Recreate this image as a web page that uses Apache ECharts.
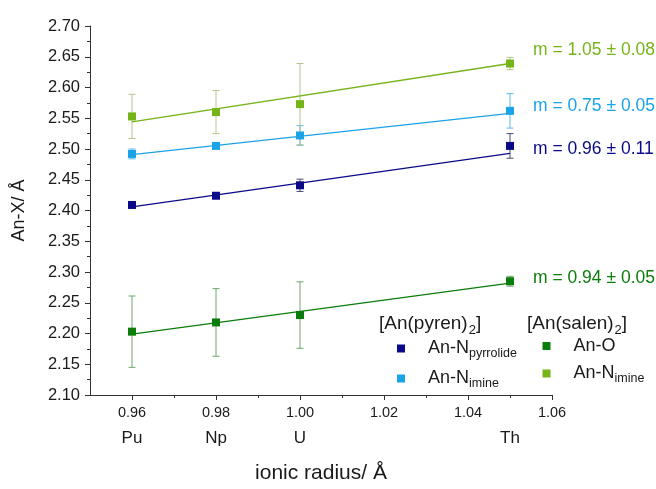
<!DOCTYPE html>
<html>
<head>
<meta charset="utf-8">
<script src="https://cdn.jsdelivr.net/npm/echarts@6/dist/echarts.min.js"></script>
<style>
  html, body { margin: 0; padding: 0; background: #fff; }
  #main { width: 656px; height: 489px; }
</style>
</head>
<body>
<div id="main"></div>
<script>
// ionic radius (Å) of each actinide
const radii = [0.96, 0.98, 1.00, 1.05]
const elements = ['Pu', 'Np', 'U', 'Th']
const xTicks = [0.96, 0.98, 1.00, 1.02, 1.04, 1.06]
const xMinorTicks = [0.97, 0.99, 1.01, 1.03, 1.05]

// An-X distances (Å) and error bars
const pyrrolide = [2.409, 2.424, 2.441, 2.505]
const pyrrolideErr = [0.002, 0.002, 0.010, 0.020]
const pyrenImine = [2.492, 2.505, 2.522, 2.562]
const pyrenImineErr = [0.008, 0.004, 0.016, 0.028]
const salenO = [2.203, 2.218, 2.230, 2.285]
const salenOErr = [0.058, 0.055, 0.054, 0.008]
const salenImine = [2.553, 2.560, 2.573, 2.639]
const salenImineErr = [0.036, 0.035, 0.066, 0.010]

// linear fits, value at Pu and at Th
const fitPyrrolide = [2.406, 2.493]
const fitPyrenImine = [2.491, 2.558]
const fitSalenO = [2.199, 2.282]
const fitSalenImine = [2.544, 2.639]
const slopeLabels = ['m = 0.96 ± 0.11', 'm = 0.75 ± 0.05', 'm = 0.94 ± 0.05', 'm = 1.05 ± 0.08']

const FONT = 'Liberation Sans, Arial, sans-serif'
const TXT = '#1a1a1a'

const groups = [
  { name: 'pyrrolide', values: pyrrolide, errs: pyrrolideErr, fit: fitPyrrolide, color: '#0a0a88', errColor: '#4a4a7a', label: slopeLabels[0], dy: -4 },
  { name: 'pyrenImine', values: pyrenImine, errs: pyrenImineErr, fit: fitPyrenImine, color: '#1aa3e8', errColor: '#5dbbea', label: slopeLabels[1], dy: -7 },
  { name: 'salenO', values: salenO, errs: salenOErr, fit: fitSalenO, color: '#0a7d0a', errColor: '#6aa86a', label: slopeLabels[2], dy: -5 },
  { name: 'salenImine', values: salenImine, errs: salenImineErr, fit: fitSalenImine, color: '#76b41a', errColor: '#b5c58a', label: slopeLabels[3], dy: -13 }
]

const legendText = {
  pyrrolide: '{b|An-N}{s|pyrrolide}',
  pyrenImine: '{b|An-N}{s|imine}',
  salenO: '{b|An-O}',
  salenImine: '{b|An-N}{s|imine}'
}
const legendRich = {
  b: { fontSize: 18, fontFamily: FONT, color: TXT, lineHeight: 22, padding: [0, 0, 0, 18] },
  s: { fontSize: 12.5, fontFamily: FONT, color: TXT, lineHeight: 22, padding: [10, 0, 0, 0] }
}
const headerRich = {
  a: { fontSize: 19, fontFamily: FONT, fill: TXT, lineHeight: 22 },
  s: { fontSize: 13, fontFamily: FONT, fill: TXT, lineHeight: 22, padding: [13, 0, 0, 1] }
}

function errorSeries (g) {
  return {
    type: 'custom',
    silent: true,
    z: 1,
    data: radii.map((r, i) => [r, g.values[i] - g.errs[i], g.values[i] + g.errs[i]]),
    encode: { x: 0, y: [1, 2] },
    renderItem: (params, api) => {
      const lo = api.coord([api.value(0), api.value(1)])
      const hi = api.coord([api.value(0), api.value(2)])
      const w = 3.5
      const st = { stroke: g.errColor, lineWidth: 1 }
      return {
        type: 'group',
        children: [
          { type: 'line', shape: { x1: lo[0], y1: lo[1], x2: hi[0], y2: hi[1] }, style: st },
          { type: 'line', shape: { x1: lo[0] - w, y1: lo[1], x2: lo[0] + w, y2: lo[1] }, style: st },
          { type: 'line', shape: { x1: hi[0] - w, y1: hi[1], x2: hi[0] + w, y2: hi[1] }, style: st }
        ]
      }
    }
  }
}

const series = []
for (const g of groups) {
  series.push(errorSeries(g))
  series.push({
    type: 'line',
    silent: true,
    z: 2,
    symbol: 'none',
    lineStyle: { color: g.color, width: 1.3 },
    data: [[radii[0], g.fit[0]], [radii[3], g.fit[1]]],
    endLabel: {
      show: true,
      formatter: g.label,
      color: g.color,
      fontSize: 17.5,
      fontFamily: FONT,
      distance: 23,
      offset: [0, g.dy]
    }
  })
  series.push({
    name: g.name,
    type: 'scatter',
    z: 3,
    symbol: 'rect',
    symbolSize: 8,
    itemStyle: { color: g.color, opacity: 1 },
    data: radii.map((r, i) => [r, g.values[i]])
  })
}

const myChart = echarts.init(document.getElementById('main'))

myChart.setOption({
  animation: false,
  backgroundColor: '#fff',
  grid: { left: 90, right: 104, top: 26, bottom: 93.5 },
  xAxis: [
    {
      type: 'value',
      position: 'bottom',
      min: 0.95,
      max: 1.06,
      name: 'ionic radius/ Å',
      nameLocation: 'middle',
      nameGap: 68,
      nameTextStyle: { fontSize: 21, fontFamily: FONT, color: TXT },
      axisLine: { show: true, onZero: false, lineStyle: { color: '#333', width: 1 } },
      axisTick: { show: true, length: 5, customValues: xTicks, lineStyle: { color: '#333' } },
      axisLabel: { customValues: xTicks, formatter: (v) => v.toFixed(2), fontSize: 14.5, fontFamily: FONT, color: TXT, margin: 10 },
      splitLine: { show: false }
    },
    {
      type: 'value',
      position: 'bottom',
      offset: 0,
      min: 0.95,
      max: 1.06,
      axisLine: { show: false, onZero: false },
      axisTick: { show: true, length: 3, customValues: xMinorTicks, lineStyle: { color: '#333' } },
      axisLabel: { show: false },
      splitLine: { show: false }
    },
    {
      type: 'value',
      position: 'bottom',
      offset: 0,
      min: 0.95,
      max: 1.06,
      axisLine: { show: false, onZero: false },
      axisTick: { show: false },
      axisLabel: {
        customValues: radii,
        formatter: (v) => elements[radii.findIndex(r => Math.abs(r - v) < 1e-6)],
        fontSize: 17,
        fontFamily: FONT,
        color: TXT,
        margin: 35
      },
      splitLine: { show: false }
    }
  ],
  yAxis: {
    type: 'value',
    min: 2.10,
    max: 2.70,
    interval: 0.05,
    name: 'An-X/ Å',
    nameLocation: 'middle',
    nameGap: 62,
    nameTextStyle: { fontSize: 18, fontFamily: FONT, color: TXT },
    axisLine: { show: true, onZero: false, lineStyle: { color: '#333', width: 1 } },
    axisTick: { show: true, length: 5, lineStyle: { color: '#333' } },
    minorTick: { show: true, splitNumber: 2, length: 3, lineStyle: { color: '#333' } },
    axisLabel: { formatter: (v) => v.toFixed(2), fontSize: 16.5, fontFamily: FONT, color: TXT, margin: 10 },
    splitLine: { show: false }
  },
  legend: [
    {
      orient: 'vertical',
      left: 397,
      top: 337,
      padding: 0,
      icon: 'rect',
      itemWidth: 8,
      itemHeight: 8,
      itemGap: 7,
      selectedMode: false,
      data: ['pyrrolide', 'pyrenImine'],
      formatter: (name) => legendText[name],
      textStyle: { rich: legendRich }
    },
    {
      orient: 'vertical',
      left: 542.5,
      top: 337,
      padding: 0,
      icon: 'rect',
      itemWidth: 8,
      itemHeight: 8,
      itemGap: 7,
      selectedMode: false,
      data: ['salenO', 'salenImine'],
      formatter: (name) => legendText[name],
      textStyle: { rich: legendRich }
    }
  ],
  graphic: [
    { type: 'text', left: 379, top: 311, style: { text: '{a|[An(pyren)}{s|2}{a|]}', rich: headerRich } },
    { type: 'text', left: 527, top: 311, style: { text: '{a|[An(salen)}{s|2}{a|]}', rich: headerRich } }
  ],
  series: series
})
</script>
</body>
</html>
